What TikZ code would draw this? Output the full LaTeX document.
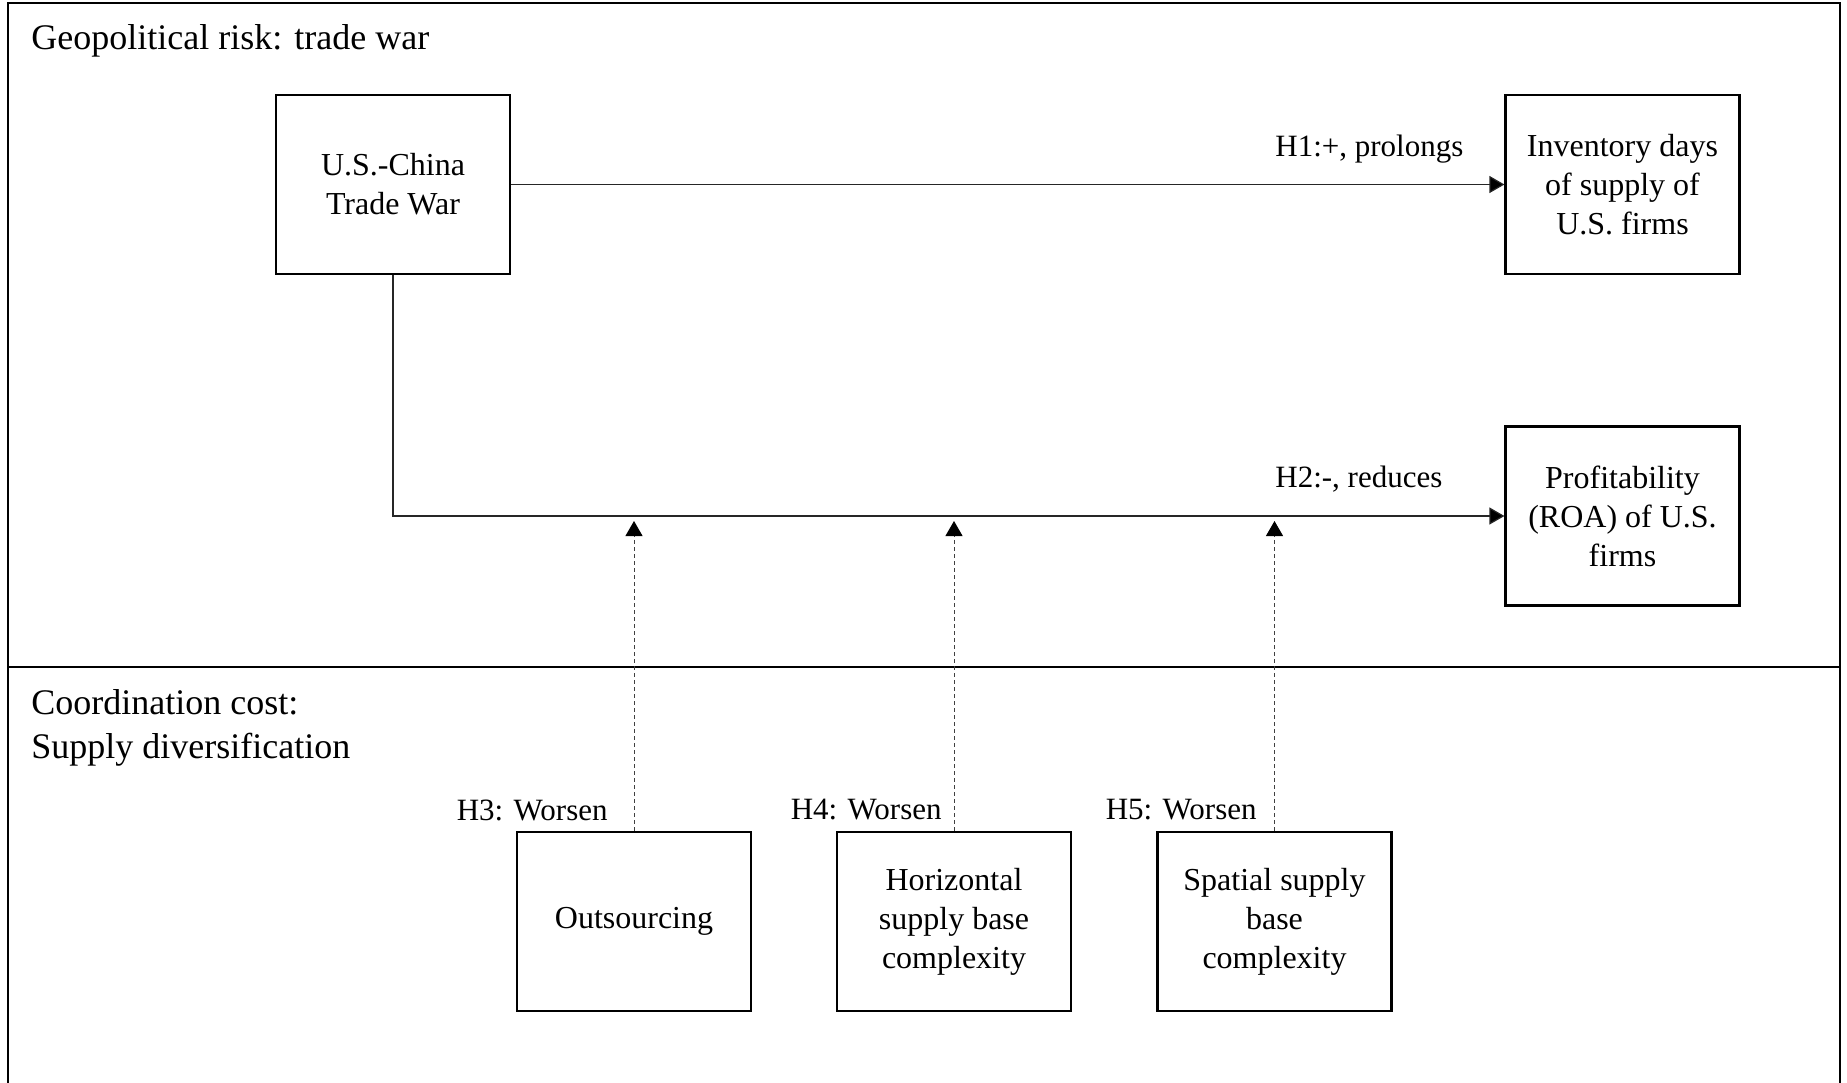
\documentclass[tikz,border=0pt]{standalone}
\usepackage{fontspec}
\setmainfont{Liberation Serif}
\usetikzlibrary{arrows.meta}
\usetikzlibrary{positioning}

\tikzset{
box/.style={draw, line width=1.1pt, minimum width=117pt, minimum height=89.5pt, inner sep=0pt, align=center, font=\fontsize{16}{19.5}\selectfont},
arr/.style={-{Triangle[length=7.5pt,width=8.5pt,fill=black]}, line width=0.6pt, draw=black!85},
dasharr/.style={-{Triangle[length=7.5pt,width=8.5pt,fill=black,color=black]}, line width=0.5pt, draw=black!75, dash pattern=on 2pt off 1.5pt, shorten >=2.5pt},
hyp/.style={inner sep=0pt, font=\fontsize{15.5}{19}\selectfont},
sect/.style={inner sep=0pt, align=left, font=\fontsize{18}{22}\selectfont, anchor=west}
}

\begin{document}
\begin{tikzpicture}[x=0.5pt,y=-0.5pt]
\useasboundingbox (0,0) rectangle (1847,1082);
% frame
\draw[line width=1.2pt] (8,1090) -- (8,3) -- (1840,3) -- (1840,1090);
\draw[line width=1.2pt] (8,667) -- (1840,667);
\node[sect] (geo) at (31,41) {Geopolitical risk: trade war};
\node[sect] (coord) at (31,728) {Coordination cost:\\Supply diversification};
% boxes
\node[box] (war) at (393,184.5) {U.S.-China\\Trade War};
\node[box] (inv) at (1622.5,184.5) {Inventory days\\of supply of\\U.S. firms};
\node[box] (roa) at (1622.5,516) {Profitability\\(ROA) of U.S.\\firms};
\node[box] (out) at (634,921.5) {Outsourcing};
\node[box] (hor) at (954,921.5) {Horizontal\\supply base\\complexity};
\node[box] (spa) at (1274.5,921.5) {Spatial supply\\base\\complexity};
% main effects
\draw[arr] (war.east) -- (inv.west);
\draw[arr] (war.south) |- (roa.west);
\node[hyp, anchor=west] (h1) at (1275,149.5) {H1:+, prolongs};
\node[hyp, anchor=west] (h2) at (1275,479.5) {H2:-, reduces};
% moderators
\coordinate (m3) at (out.north |- roa.west);
\coordinate (m4) at (hor.north |- roa.west);
\coordinate (m5) at (spa.north |- roa.west);
\draw[dasharr] (out.north) -- (m3);
\draw[dasharr] (hor.north) -- (m4);
\draw[dasharr] (spa.north) -- (m5);
\node[hyp, anchor=east] (h3) at (608,810) {H3: Worsen};
\node[hyp, anchor=east] (h4) at (942,810) {H4: Worsen};
\node[hyp, anchor=east] (h5) at (1257,810) {H5: Worsen};
\end{tikzpicture}
\end{document}
